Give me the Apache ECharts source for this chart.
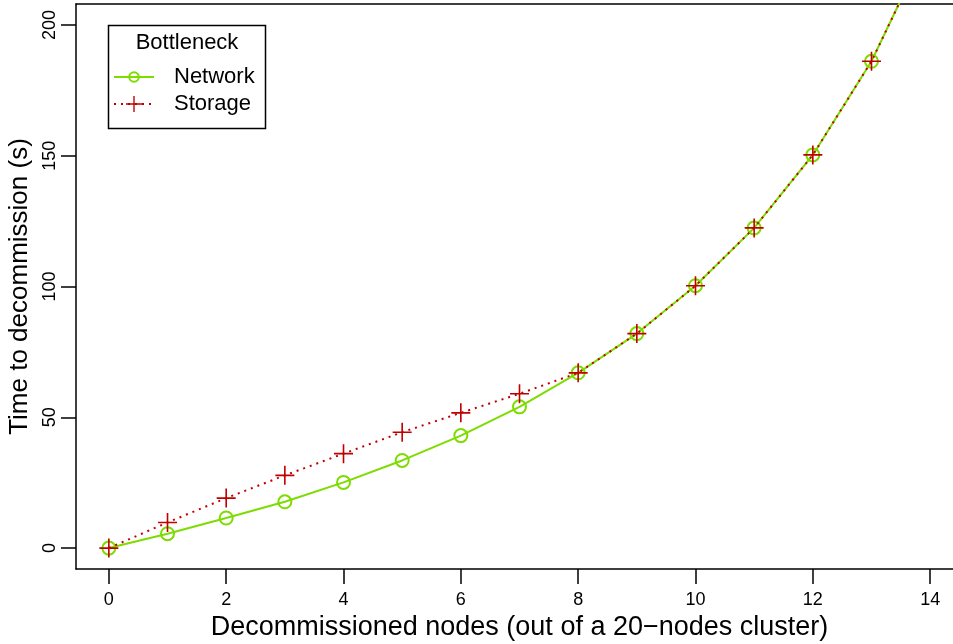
<!DOCTYPE html>
<html>
<head>
<meta charset="utf-8">
<script src="https://cdn.jsdelivr.net/npm/echarts@6/dist/echarts.min.js"></script>
<style>
  html, body { margin: 0; padding: 0; background: #fff; }
  #chart { width: 953px; height: 644px; }
</style>
</head>
<body>
<div id="chart"></div>
<script>
// Decommissioning time vs. number of removed nodes, per bottleneck
const nodes = [0, 1, 2, 3, 4, 5, 6, 7, 8, 9, 10, 11, 12, 13, 14];
const network = [0, 5.5, 11.5, 17.7, 25.1, 33.5, 43, 54, 67, 82, 100.3, 122.4, 150.3, 186.1, 233];
const storage = [0, 9.8, 19.1, 27.8, 36.1, 44.3, 51.7, 59, 67, 82, 100.3, 122.4, 150.3, 186.1, 233];
const xTicks = [0, 2, 4, 6, 8, 10, 12, 14];
const yTicks = [0, 50, 100, 150, 200];

const GREEN = '#7ddc00';
const RED = '#c00000';
const FONT = 'Liberation Sans, Arial, Helvetica, sans-serif';
const PLUS = 'path://M-0.085,-1H0.085V-0.085H1V0.085H0.085V1H-0.085V0.085H-1V-0.085H-0.085Z';

const chart = echarts.init(document.getElementById('chart'), null, { renderer: 'canvas' });

const tickStyle = { color: '#000', width: 1.5 };
const frameLine = { show: true, onZero: false, lineStyle: { color: '#000', width: 1.5 } };
const legendText = { fontSize: 22, fontFamily: FONT, color: '#000', padding: [0, 0, 0, 15] };

chart.setOption({
  animation: false,
  backgroundColor: '#fff',
  textStyle: { fontFamily: FONT, color: '#000' },
  // the plot frame runs past the right edge of the canvas
  grid: { left: 76, top: 4, width: 887, bottom: 75, show: false, outerBoundsMode: 'none', containLabel: false },
  xAxis: [
    {
      type: 'value', position: 'bottom', min: -0.56, max: 14.56,
      name: 'Decommissioned nodes (out of a 20\u2212nodes cluster)',
      nameLocation: 'middle', nameGap: 44,
      nameTextStyle: { fontSize: 27, fontFamily: FONT, color: '#000' },
      axisLine: frameLine,
      splitLine: { show: false },
      axisTick: { show: true, inside: false, length: 15, customValues: xTicks, lineStyle: tickStyle },
      axisLabel: { customValues: xTicks, fontSize: 18, fontFamily: FONT, color: '#000', margin: 22 }
    },
    {
      type: 'value', position: 'top', min: -0.56, max: 14.56,
      axisLine: frameLine,
      splitLine: { show: false }, axisTick: { show: false }, axisLabel: { show: false }
    }
  ],
  yAxis: {
    type: 'value', position: 'left', min: -8, max: 208,
    name: 'Time to decommission (s)',
    nameLocation: 'middle', nameGap: 40,
    nameTextStyle: { fontSize: 26, fontFamily: FONT, color: '#000' },
    axisLine: frameLine,
    splitLine: { show: false },
    axisTick: { show: true, inside: false, length: 15, customValues: yTicks, lineStyle: tickStyle },
    axisLabel: { customValues: yTicks, fontSize: 18, fontFamily: FONT, color: '#000', rotate: 90, margin: 17 }
  },
  // one legend per entry so each key symbol gets its own size
  legend: [
    {
      orient: 'vertical', left: 113, top: 66, padding: 0,
      itemWidth: 40, itemHeight: 12, textStyle: legendText,
      data: ['Network']
    },
    {
      orient: 'vertical', left: 113, top: 93, padding: 0,
      itemWidth: 40, itemHeight: 20, textStyle: legendText,
      data: ['Storage']
    }
  ],
  graphic: [
    { type: 'rect', shape: { x: 108.5, y: 25.5, width: 157, height: 103 },
      style: { fill: '#fff', stroke: '#000', lineWidth: 1.5 }, z: 0 },
    { type: 'text', x: 187, y: 43, z: 1,
      style: { text: 'Bottleneck', font: '22px ' + FONT, fill: '#000', align: 'center', verticalAlign: 'middle' } }
  ],
  series: [
    {
      name: 'Network', type: 'line',
      data: nodes.map((x, i) => [x, network[i]]),
      symbol: 'circle', symbolSize: 13, showAllSymbol: true,
      lineStyle: { color: GREEN, width: 2 },
      itemStyle: { color: 'rgba(255,255,255,0)', borderColor: GREEN, borderWidth: 2 },
      clip: true, z: 2
    },
    {
      name: 'Storage', type: 'line',
      data: nodes.map((x, i) => [x, storage[i]]),
      symbol: PLUS, symbolSize: 19, showAllSymbol: true,
      lineStyle: { color: RED, width: 2, type: [2, 5] },
      itemStyle: { color: RED, borderWidth: 0 },
      clip: true, z: 3
    }
  ]
});
</script>
</body>
</html>
